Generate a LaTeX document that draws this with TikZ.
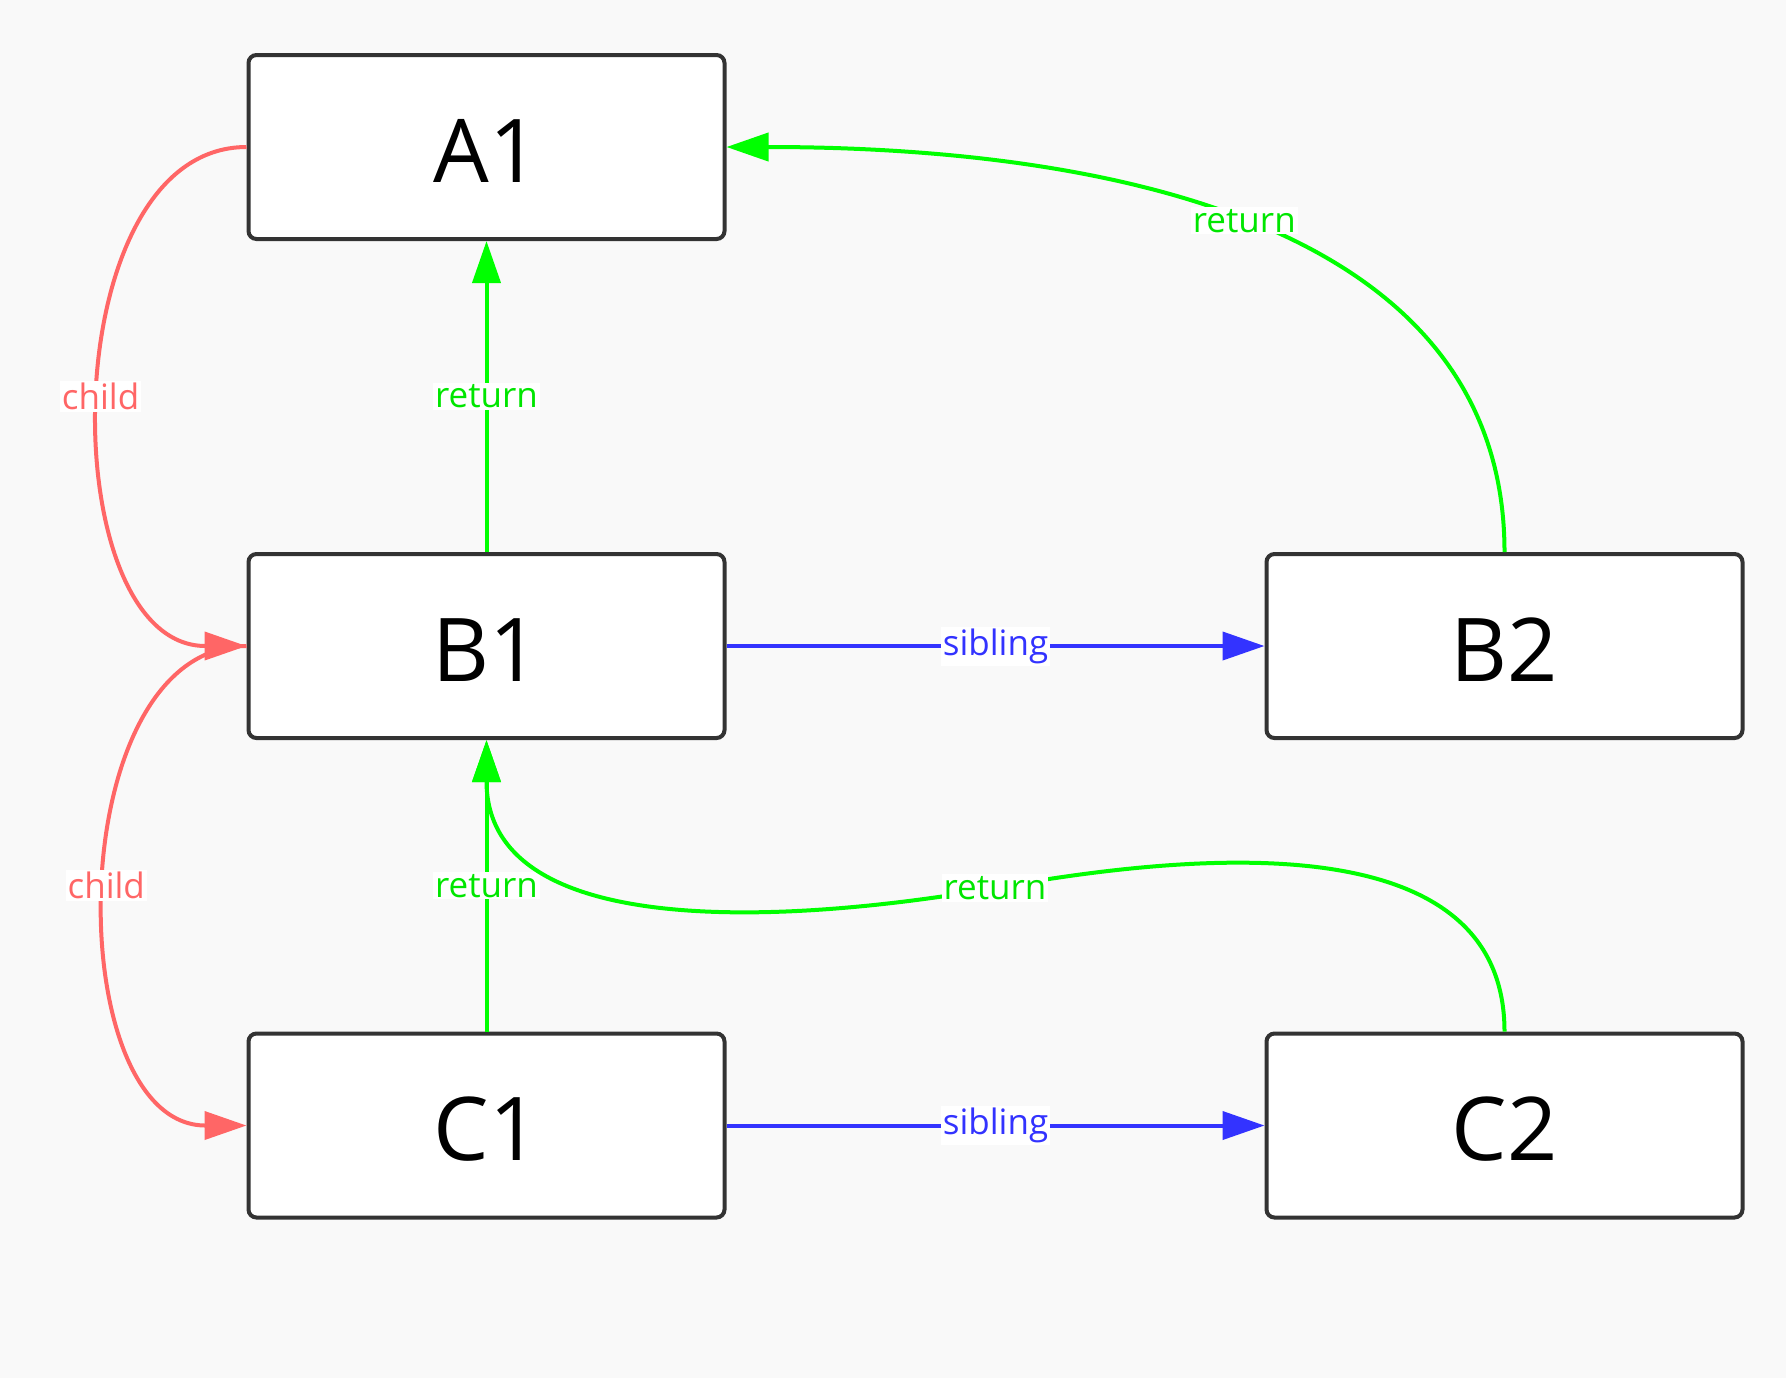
\documentclass[tikz,border=0pt]{standalone}
\usepackage{fontspec}
\setmainfont{Open Sans}
\usetikzlibrary{arrows.meta}
\definecolor{bgc}{HTML}{F9F9F9}
\definecolor{boxc}{HTML}{333333}
\definecolor{redc}{HTML}{FF6666}
\definecolor{greenc}{HTML}{00FF00}
\definecolor{gtext}{HTML}{00E600}
\definecolor{bluec}{HTML}{3333FF}
\begin{document}
\begin{tikzpicture}[x=0.5pt,y=-0.5pt,
  box/.style={draw=boxc, line width=2pt, rounded corners=4pt, fill=white,
    minimum width=238pt, minimum height=92pt, inner sep=0pt,
    text height=35pt, text depth=0pt,
    font=\fontsize{44}{52}\selectfont},
  lbl/.style={fill=white, inner sep=1pt, font=\fontsize{17.5}{20}\selectfont},
  tip/.style={-{Triangle[length=21pt,width=14pt]}},
  childe/.style={draw=redc, line width=2pt, tip},
  rete/.style={draw=greenc, line width=2pt, tip},
  sibe/.style={draw=bluec, line width=2pt, tip}]
\fill[bgc] (0,0) rectangle (1786,1378);
\useasboundingbox (0,0) rectangle (1786,1378);
\node[box] (A1) at (486.5,147) {A1};
\node[box] (B1) at (486.5,646) {B1};
\node[box] (B2) at (1504.5,646) {B2};
\node[box] (C1) at (486.5,1125.5) {C1};
\node[box] (C2) at (1504.5,1125.5) {C2};
\coordinate (m) at (995,888);
% child edges
\draw[childe] (A1.west) to[out=180,in=180] node[lbl,text=redc]{child} (B1.west);
\draw[childe] (B1.west) to[out=180,in=180] node[lbl,text=redc]{child} (C1.west);
% return edges
\draw[rete] (B1.north) -- node[lbl,text=gtext]{return} (A1.south);
\draw[rete] (C1.north) -- node[lbl,text=gtext]{return} (B1.south);
\draw[rete] (B2.north) to[out=90,in=0] node[lbl,text=gtext]{return} (A1.east);
\draw[rete] (C2.north) .. controls (1504.5,842) and (1250,842) .. (m)
  .. controls (800,922) and (486.5,945) .. (B1.south);
\node[lbl,text=gtext] at (m) {return};
% sibling edges
\draw[sibe] (B1.east) -- node[lbl,text=bluec]{sibling} (B2.west);
\draw[sibe] (C1.east) -- node[lbl,text=bluec]{sibling} (C2.west);
\end{tikzpicture}
\end{document}
